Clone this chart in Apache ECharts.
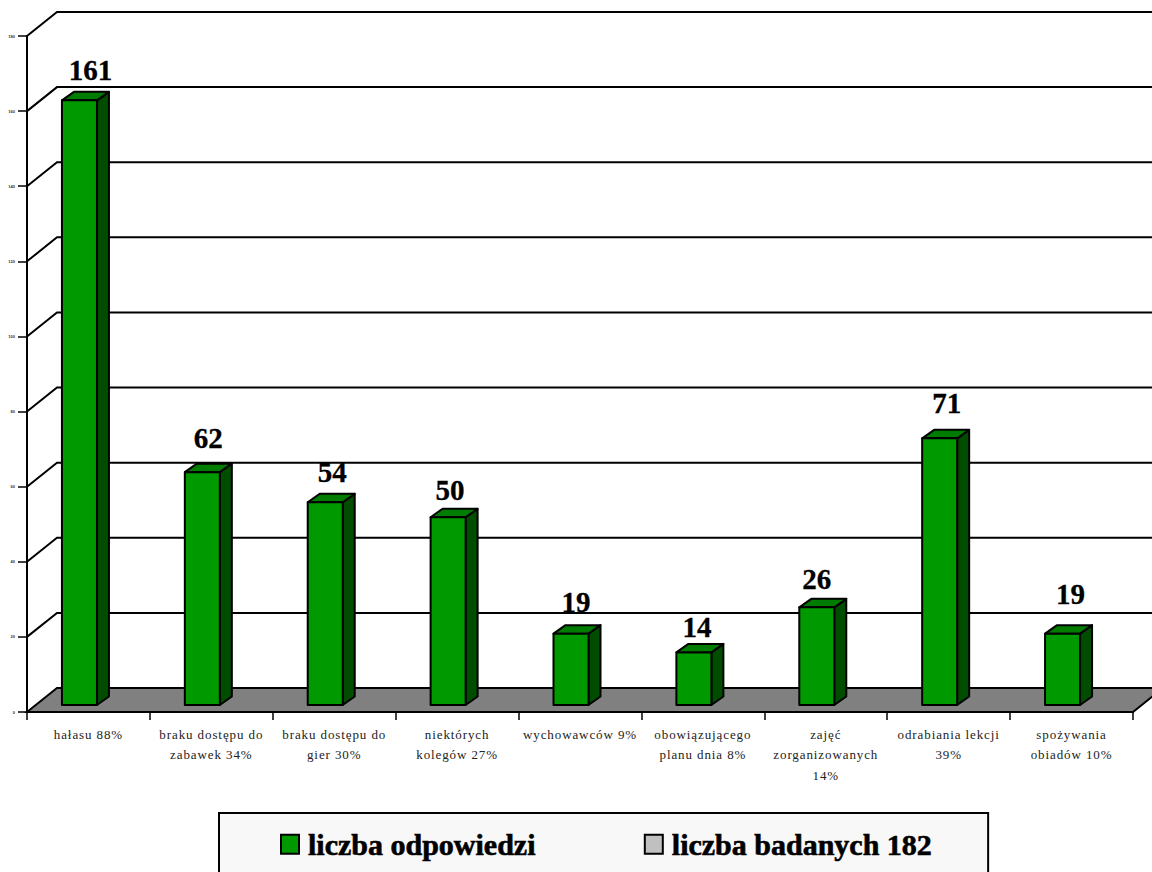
<!DOCTYPE html>
<html><head><meta charset="utf-8">
<style>html,body{margin:0;padding:0;background:#fff;overflow:hidden}#c{width:1152px;height:872px}
#c svg text[style*="13px"]{letter-spacing:.9px}</style>
<script src="https://cdn.jsdelivr.net/npm/echarts@6/dist/echarts.min.js"></script>
</head><body><div id="c"></div>
<script>
const categories = ['hałasu 88%','braku dostępu do\nzabawek 34%','braku dostępu do\ngier 30%','niektórych\nkolegów 27%','wychowawców 9%','obowiązującego\nplanu dnia 8%','zajęć\nzorganizowanych\n14%','odrabiania lekcji\n39%','spożywania\nobiadów 10%'];
const answers = [161,62,54,50,19,14,26,71,19];
const yTicks = [20,40,60,80,100,120,140,160,180];
const seriesAnswers = 'liczba odpowiedzi';
const seriesSurveyed = 'liczba badanych 182';
const labelNudgeX = [11,6,7,2,5,3,0,7,8];
const labelNudgeY = [-30,-34,-30,-27,-32,-25,-28,-35,-40];

const chart = echarts.init(document.getElementById('c'), null, {renderer:'svg'});
const DX = 30, DY = -24;
const BLACK = '#000';
chart.setOption({
  animation:false,
  backgroundColor:'#fff',
  textStyle:{fontFamily:'Liberation Serif'},
  grid:{left:27,right:19,top:36,bottom:160,containLabel:false},
  legend:{
    left:219, top:813,
    padding:[16,56,22,61],
    itemGap:108, itemWidth:18, itemHeight:19,
    backgroundColor:'#f8f8f8', borderColor:BLACK, borderWidth:2,
    textStyle:{fontFamily:'Liberation Serif',fontWeight:'bold',fontSize:30,color:'#000',
      textBorderColor:'#000',textBorderWidth:0.6,padding:[4,0,0,4]},
    data:[
      {name:seriesAnswers,icon:'rect',itemStyle:{color:'#009900',borderColor:BLACK,borderWidth:2}},
      {name:seriesSurveyed,icon:'rect',itemStyle:{color:'#c0c0c0',borderColor:BLACK,borderWidth:2}}
    ]
  },
  xAxis:{type:'category',data:categories,boundaryGap:true,
    axisLine:{show:true,lineStyle:{color:BLACK,width:2}},
    axisTick:{show:true,alignWithLabel:false,length:8,lineStyle:{color:BLACK,width:1.5}},
    axisLabel:{interval:0,margin:12,fontFamily:'Liberation Serif',fontSize:13,lineHeight:20.5,color:'#222',verticalAlign:'top'},
    splitLine:{show:false}},
  yAxis:{type:'value',min:0,max:180,interval:20,
    axisLine:{show:true,lineStyle:{color:BLACK,width:2}},
    axisTick:{show:true,length:9,lineStyle:{color:BLACK,width:1.5}},
    axisLabel:{margin:12,fontFamily:'Liberation Sans',fontSize:4,fontWeight:'bold',color:'#333'},
    splitLine:{show:false}},
  series:[
    {type:'custom',name:'floor',silent:true,clip:false,z:1,data:[0],encode:{y:0},
     renderItem(p,api){
       const y=api.coord([0,0])[1],x0=p.coordSys.x,x1=x0+p.coordSys.width;
       return {type:'polygon',shape:{points:[[x0,y],[x0+DX,y+DY],[x1+DX,y+DY],[x1,y]]},
         style:{fill:'#808080',stroke:BLACK,lineWidth:2}};
     }},
    {type:'custom',name:'walls',silent:true,clip:false,z:1,data:yTicks,encode:{y:0},
     renderItem(p,api){
       const v=api.value(0); const y=api.coord([0,v])[1]; const x0=p.coordSys.x,x1=x0+p.coordSys.width;
       return {type:'polyline',shape:{points:[[x0,y],[x0+DX,y+DY],[x1+DX,y+DY]]},
         style:{fill:null,stroke:BLACK,lineWidth:2}};
     }},
    {type:'custom',name:seriesAnswers,clip:false,z:3,
     itemStyle:{color:'#009900'},
     data:answers.map((v,i)=>[i,v]),
     encode:{x:0,y:1},
     renderItem(p,api){
       const i=api.value(0),v=api.value(1);
       const top=api.coord([i,v]),base=api.coord([i,0]);
       const w=35,dx=12,dy=-8.5;
       const l=top[0]-9-w/2,r=l+w,t=top[1]-7,b=base[1]-7;
       const s={stroke:BLACK,lineWidth:2,lineJoin:'round'};
       return {type:'group',children:[
         {type:'polygon',shape:{points:[[r,t],[r+dx,t+dy],[r+dx,b+dy],[r,b]]},style:{...s,fill:'#004d00'}},
         {type:'polygon',shape:{points:[[l,t],[l+dx,t+dy],[r+dx,t+dy],[r,t]]},style:{...s,fill:'#007d00'}},
         {type:'rect',shape:{x:l,y:t,width:w,height:b-t},style:{...s,fill:'#009900'}},
         {type:'text',x:l+w/2+labelNudgeX[i],y:t+labelNudgeY[i],
          style:{text:String(v),fontFamily:'Liberation Serif',fontWeight:'bold',fontSize:29,fill:'#000',stroke:'#000',lineWidth:0.3,align:'center',verticalAlign:'middle'}}
       ]};
     }},
    {type:'custom',name:seriesSurveyed,itemStyle:{color:'#c0c0c0'},data:[],renderItem(){return null}}
  ]
});
</script></body></html>
